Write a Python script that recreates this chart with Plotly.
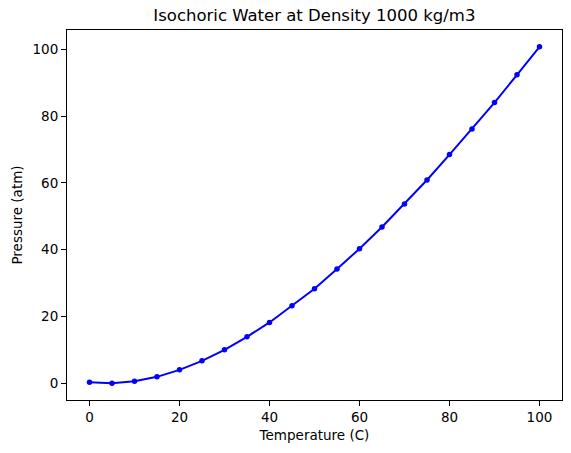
import plotly.graph_objects as go

# temperature (C) and pressure (atm)
temperature = [0, 5, 10, 15, 20, 25, 30, 35, 40, 45, 50,
               55, 60, 65, 70, 75, 80, 85, 90, 95, 100]
pressure = [0.3, 0.0, 0.6, 1.9, 4.0, 6.7, 10.0, 13.9, 18.2, 23.2, 28.3,
            34.2, 40.3, 46.8, 53.7, 60.9, 68.5, 76.2, 84.1, 92.4, 100.8]

x_ticks = [0, 20, 40, 60, 80, 100]
y_ticks = [0, 20, 40, 60, 80, 100]

font = "DejaVu Sans"

fig = go.Figure(
    go.Scatter(
        x=temperature,
        y=pressure,
        mode="lines+markers",
        line=dict(color="blue", width=2),
        marker=dict(color="blue", size=5.5),
    )
)

axis_style = dict(
    showline=True,
    linecolor="black",
    linewidth=1.1,
    mirror=True,
    ticks="outside",
    ticklen=5,
    tickwidth=1.1,
    tickcolor="black",
    showgrid=False,
    zeroline=False,
    automargin=False,
    tickfont=dict(family=font, size=13.5, color="black"),
)

fig.update_layout(
    width=571,
    height=453,
    margin=dict(l=66.5, r=8.7, t=30.3, b=52.7),
    paper_bgcolor="white",
    plot_bgcolor="white",
    showlegend=False,
    font=dict(family=font, size=13.5, color="black"),
    title=dict(
        text="Isochoric Water at Density 1000 kg/m3",
        x=0.5 + (66.5 - 8.7) / 2 / 571,
        xanchor="center",
        y=1 - 15.5 / 453,
        yanchor="middle",
        font=dict(family=font, size=16.5, color="black"),
    ),
    xaxis=dict(
        axis_style,
        range=[-5, 105],
        tickvals=x_ticks,
        title=dict(text="Temperature (C)", font=dict(family=font, size=13.5), standoff=6),
    ),
    yaxis=dict(
        axis_style,
        range=[-5.04, 105.84],
        tickvals=y_ticks,
        title=dict(text="Pressure (atm)", font=dict(family=font, size=13.5), standoff=6),
    ),
)

# drop the browser's default 8px body margin so the figure sits at 0,0
fig.write_html(
    "out.html",
    config={"displayModeBar": False},
    post_script="document.body.style.margin = '0';",
)
